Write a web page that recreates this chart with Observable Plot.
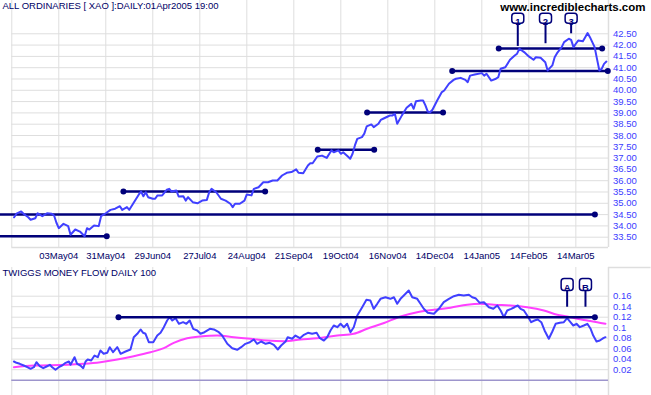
<!DOCTYPE html>
<html>
<head>
<meta charset="utf-8">
<script src="https://cdn.jsdelivr.net/npm/d3@7"></script>
<script src="https://cdn.jsdelivr.net/npm/@observablehq/plot@0.6"></script>
<style>
  html, body { margin: 0; padding: 0; background: #ffffff; }
  #chart { width: 651px; height: 395px; overflow: hidden; }
  #chart svg { display: block; }
</style>
</head>
<body>
<div id="chart"></div>
<script>
// ---------------- DATA ----------------
const chartTitle = "ALL ORDINARIES [ XAO ]:DAILY:01Apr2005 19:00";
const watermark = "www.incrediblecharts.com";
const mfTitle = "TWIGGS MONEY FLOW DAILY 100";

// trading-day index (0 = 03May04) and date tick labels
const gridDays = [-20, 0, 20, 40, 60, 80, 100, 120, 140, 160, 180, 200, 220];
const tickDays = [0, 20, 40, 60, 80, 100, 120, 140, 160, 180, 200, 220];
const dateLabels = ["03May04", "31May04", "29Jun04", "27Jul04", "24Aug04", "21Sep04",
  "19Oct04", "16Nov04", "14Dec04", "14Jan05", "14Feb05", "14Mar05"];

const priceTicks = [33.5, 34, 34.5, 35, 35.5, 36, 36.5, 37, 37.5, 38, 38.5, 39, 39.5, 40, 40.5, 41, 41.5, 42, 42.5];
const mfTicks = [0.02, 0.04, 0.06, 0.08, 0.1, 0.12, 0.14, 0.16];

// ALL ORDINARIES close
const priceDay = [-19,-18,-16,-15,-13,-12,-10,-9,-7,-5,-3,-2,-1,0,2,4,5,7,9,11,12,13,15,17,18,20,22,24,26,27,29,30,32,34,35,36,37,38,40,41,42,44,46,47,48,50,51,53,54,55,57,59,61,63,64,65,67,69,71,73,74,75,77,79,80,82,83,85,87,89,91,93,95,97,99,101,102,104,106,107,108,110,112,114,116,117,119,120,121,123,124,125,126,127,129,130,131,133,134,136,137,138,140,141,142,143,144,146,147,148,150,151,152,154,155,156,157,158,159,161,163,164,166,168,169,171,173,174,175,177,180,181,182,184,186,187,188,190,192,194,195,196,198,200,202,203,205,207,208,210,211,212,214,215,217,218,219,220,221,223,224,225,226,228,229,230,231,232,233];
const priceClose = [34.38,34.54,34.64,34.54,34.38,34.27,34.34,34.56,34.43,34.56,34.54,34.46,34.14,33.90,34.09,33.99,33.61,33.84,33.75,33.54,33.90,33.84,34.02,33.99,34.43,34.56,34.71,34.76,34.87,34.71,34.83,34.71,35.05,35.38,35.52,35.31,35.49,35.27,35.20,35.20,35.35,35.35,35.60,35.64,35.52,35.57,35.30,35.31,35.12,35.27,35.05,35.00,35.12,35.15,35.49,35.64,35.49,35.20,35.12,34.98,34.83,34.98,34.98,35.12,35.39,35.35,35.64,35.71,35.93,35.93,36.01,36.01,36.23,36.35,36.38,36.50,36.35,36.33,36.67,36.77,36.77,37.07,37.11,37.01,37.34,37.26,37.34,37.19,37.26,37.07,36.97,37.19,37.56,37.85,37.93,38.08,38.40,38.49,38.37,38.52,38.69,38.74,38.84,38.89,38.89,38.96,38.52,38.89,39.06,39.23,39.40,39.18,39.52,39.55,39.55,39.33,39.06,39.03,39.14,39.55,39.92,39.99,40.29,40.46,40.51,40.55,40.46,40.36,40.65,40.70,40.76,40.65,40.73,40.43,40.51,40.58,40.95,41.02,41.35,41.54,41.62,41.84,41.69,41.50,41.35,41.46,41.44,41.24,40.88,41.10,41.46,41.64,41.91,42.13,42.28,42.23,41.91,42.06,42.20,42.17,42.35,42.53,42.35,41.91,41.39,40.88,40.95,41.17,41.27];

// Twiggs Money Flow
const mfDay = [-19.1,-18,-16.6,-14.9,-13.4,-12,-10.6,-9.5,-8.1,-6.6,-5.2,-3.8,-2.8,-1.4,0,1.4,2.9,4.3,5,6.7,7.8,9.2,10.4,11.4,12.3,13.8,15.2,16.6,17.7,19.1,20.6,21.7,23.1,24.9,26.3,28.4,30.5,31.9,33.4,34.8,35.9,36.9,38.3,40.2,41.9,43.3,44.7,46.1,47.2,48.3,49.7,51.1,52.9,54.3,55.7,57.2,58.9,60.3,62,64.3,66,68.1,69.5,71.7,73.8,75.9,77.6,79.4,81.3,83,84.4,86.1,88,89.8,91.5,93.2,94.6,96.5,97.4,99.3,100.7,102.6,104.3,106,107.8,109.7,111.1,112.8,114.2,115.6,117,118.5,119.9,121.3,122.7,124.1,125.5,127,129.1,130.9,132.6,134,135.5,136.9,139,141.1,142.6,144,145.4,146.8,148.9,150.4,152.5,153.9,155.3,157,159.6,161.7,163.8,166,168.1,170.2,172.3,174.5,175.9,177.3,179.1,180.9,183,184.9,186.6,188,189.4,190.8,192.5,193.9,195.3,196.5,197.9,199.3,201,202.4,203.8,205.3,206.7,208.5,210,211.4,213.2,214.9,216.3,217.7,218.9,220.3,221.7,223.4,224.9,226.3,227.4,228.8,230.2,231.7,232.6];
const mfValue = [0.0356,0.0331,0.0312,0.028,0.0248,0.0217,0.0248,0.0343,0.0267,0.0229,0.0261,0.0293,0.0248,0.0198,0.0248,0.028,0.0331,0.0356,0.0293,0.0438,0.0312,0.028,0.0229,0.0356,0.0394,0.0375,0.047,0.0438,0.0566,0.0503,0.0522,0.0629,0.0533,0.0629,0.0503,0.0547,0.0585,0.0819,0.0884,0.0966,0.0903,0.0884,0.0724,0.0724,0.0851,0.0903,0.101,0.1137,0.12,0.1137,0.1181,0.1074,0.1105,0.1074,0.1137,0.0979,0.0947,0.0884,0.0914,0.0979,0.0966,0.0914,0.0851,0.0693,0.061,0.0579,0.0629,0.0693,0.0724,0.0775,0.0693,0.0737,0.0693,0.0712,0.0674,0.0585,0.0661,0.0737,0.0819,0.0789,0.0851,0.08,0.0865,0.0903,0.0884,0.0903,0.08,0.0756,0.0819,0.0947,0.1042,0.101,0.1074,0.101,0.1074,0.0914,0.101,0.1232,0.139,0.1531,0.1518,0.136,0.1455,0.155,0.158,0.155,0.158,0.1455,0.155,0.1613,0.1709,0.158,0.155,0.1455,0.136,0.1284,0.1265,0.136,0.1486,0.155,0.16,0.1627,0.1613,0.1627,0.158,0.1562,0.1474,0.1486,0.139,0.136,0.1423,0.1328,0.12,0.1328,0.136,0.139,0.1423,0.136,0.1328,0.1232,0.1105,0.1137,0.1156,0.1105,0.0947,0.0789,0.0928,0.1074,0.1093,0.1105,0.1181,0.1105,0.1042,0.1074,0.101,0.1042,0.1074,0.0979,0.0851,0.0737,0.0756,0.08,0.0819];

// Signal (moving average of money flow)
const sigDay = [-19.1,-10.6,3.6,10.6,17.7,24.9,31.9,39,44.7,48.9,54.6,60.3,67.4,74.5,81.6,88.7,95.7,102.9,110,118.5,125.5,131.2,138.4,145.4,152.5,159.6,166.7,173.8,179.5,185.1,192.2,199.3,206.4,212.1,216.3,220.6,224.9,229.1,232.6];
const sigValue = [0.0248,0.028,0.0293,0.0312,0.0343,0.0394,0.0457,0.0533,0.061,0.0712,0.08,0.0832,0.0851,0.0819,0.0789,0.0756,0.0743,0.0775,0.08,0.0851,0.0884,0.098,0.109,0.1213,0.1295,0.1341,0.138,0.1439,0.1455,0.1436,0.1423,0.139,0.1328,0.1246,0.1213,0.1169,0.1137,0.1105,0.1074];

// support / resistance lines (null start = from left edge)
const lineLevel = [33.54, 34.5, 35.52, 37.37, 39.02, 40.85, 41.85];
const lineStart = [null, null, 27.5, 110.2, 131.2, 167.4, 187.2];
const lineEnd = [20.4, 228.1, 87.8, 134.2, 163.5, 233.6, 231.2];

const mfLineLevel = [0.12];
const mfLineStart = [25.4];
const mfLineEnd = [228.1];

// callouts
const calloutLabels = ["1", "2", "3"];
const calloutDays = [195.3, 207.1, 218.0];
const calloutTargets = [41.94, 42.06, 42.5];
const mfCalloutLabels = ["A", "B"];
const mfCalloutDays = [216.3, 224.1];
const mfCalloutTargets = [0.139, 0.139];

// ---------------- STYLE ----------------
const FONT = "'Liberation Sans', Arial, Helvetica, sans-serif";
const GRID = "#dedede";
const NAVY = "#00007a";
const LABELNAVY = "#000066";
const PRICEBLUE = "#4040ff";
const AXISBLUE = "#3c3cff";
const MAGENTA = "#ff40ff";

const xDomain = [-24.8, 233.9];
const yDomain = [33.044, 43.973];
const mfDomain = [-0.02914, 0.21467];

const price = priceDay.map((d, i) => ({day: d, close: priceClose[i]}));
const mf = mfDay.map((d, i) => ({day: d, value: mfValue[i]}));
const sig = sigDay.map((d, i) => ({day: d, value: sigValue[i]}));
const lines = lineLevel.map((v, i) => ({level: v, start: lineStart[i] ?? xDomain[0], end: lineEnd[i]}));
const lineDots = lineLevel.flatMap((v, i) => lineStart[i] == null
  ? [{day: lineEnd[i], level: v}]
  : [{day: lineStart[i], level: v}, {day: lineEnd[i], level: v}]);
const mfLines = mfLineLevel.map((v, i) => ({level: v, start: mfLineStart[i], end: mfLineEnd[i]}));
const mfLineDots = mfLineLevel.flatMap((v, i) => [{day: mfLineStart[i], level: v}, {day: mfLineEnd[i], level: v}]);
const callouts = calloutLabels.map((l, i) => ({label: l, day: calloutDays[i], target: calloutTargets[i]}));
const mfCallouts = mfCalloutLabels.map((l, i) => ({label: l, day: mfCalloutDays[i], target: mfCalloutTargets[i]}));

function roundedBox(w, h, r) {
  return {
    draw(ctx) {
      const x0 = -w / 2, x1 = w / 2, y0 = -h / 2, y1 = h / 2;
      ctx.moveTo(x0 + r, y0);
      ctx.lineTo(x1 - r, y0);
      ctx.arcTo(x1, y0, x1, y0 + r, r);
      ctx.lineTo(x1, y1 - r);
      ctx.arcTo(x1, y1, x1 - r, y1, r);
      ctx.lineTo(x0 + r, y1);
      ctx.arcTo(x0, y1, x0, y1 - r, r);
      ctx.lineTo(x0, y0 + r);
      ctx.arcTo(x0, y0, x0 + r, y0, r);
      ctx.closePath();
    }
  };
}

// ---------------- TOP PANEL ----------------
const topPlot = Plot.plot({
  width: 651, height: 262,
  marginLeft: 0, marginRight: 43, marginTop: 0, marginBottom: 15,
  style: {fontFamily: FONT, fontSize: "9.5px", background: "white", overflow: "visible"},
  x: {domain: xDomain, axis: null},
  y: {domain: yDomain, axis: null},
  marks: [
    Plot.ruleX(gridDays, {x: d => d, stroke: GRID, strokeWidth: 1}),
    Plot.ruleY(priceTicks, {y: d => d, x1: gridDays[0], x2: xDomain[1], stroke: GRID, strokeWidth: 1}),
    Plot.ruleY([yDomain[0]], {y: d => d, x1: gridDays[0], x2: xDomain[1], stroke: GRID, strokeWidth: 1.5}),
    Plot.ruleX([xDomain[1]], {x: d => d, stroke: GRID, strokeWidth: 1.5}),
    Plot.ruleY(lines, {y: "level", x1: "start", x2: "end", stroke: NAVY, strokeWidth: 2.5}),
    Plot.dot(lineDots, {x: "day", y: "level", r: 3, fill: NAVY}),
    Plot.line(price, {x: "day", y: "close", stroke: PRICEBLUE, strokeWidth: 2}),
    Plot.ruleX(callouts, {x: "day", y1: () => yDomain[1], y2: "target", insetTop: 22.7, stroke: NAVY, strokeWidth: 2}),
    Plot.dot(callouts, {x: "day", frameAnchor: "top", dy: 17.7, symbol: roundedBox(12, 10, 3), r: 5, fill: "white", stroke: NAVY, strokeWidth: 1.5}),
    Plot.text(callouts, {x: "day", text: "label", frameAnchor: "top", dy: 17.7, fill: NAVY, fontSize: 9.5, fontWeight: "bold"}),
    Plot.text([chartTitle], {text: d => d, frameAnchor: "top-left", dx: 2, dy: 2, lineAnchor: "top", textAnchor: "start", fill: LABELNAVY, fontSize: 9.5}),
    Plot.text([watermark], {text: d => d, frameAnchor: "top-right", dx: 37, dy: 2, lineAnchor: "top", textAnchor: "end", fill: "black", fontSize: 11.5, fontWeight: "bold"}),
    Plot.axisX(tickDays, {anchor: "bottom", tickSize: 0, tickPadding: 5, tickFormat: d => dateLabels[tickDays.indexOf(d)], fill: LABELNAVY, fontSize: 9.5}),
    Plot.axisY(priceTicks, {anchor: "right", tickSize: 0, tickPadding: 4.5, tickFormat: d => d.toFixed(2), fill: AXISBLUE, fontSize: 9.5, textAnchor: "start"})
  ]
});

// ---------------- BOTTOM PANEL ----------------
const botPlot = Plot.plot({
  width: 651, height: 133,
  marginLeft: 0, marginRight: 43, marginTop: 5, marginBottom: 0,
  style: {fontFamily: FONT, fontSize: "9.5px", background: "white", overflow: "visible"},
  x: {domain: xDomain, axis: null},
  y: {domain: mfDomain, axis: null},
  marks: [
    Plot.ruleX(gridDays, {x: d => d, stroke: GRID, strokeWidth: 1}),
    Plot.ruleY(mfTicks, {y: d => d, x1: gridDays[0], x2: xDomain[1], stroke: GRID, strokeWidth: 1}),
    Plot.ruleX([xDomain[1]], {x: d => d, stroke: GRID, strokeWidth: 1.5}),
    Plot.ruleY([mfDomain[1]], {y: d => d, x1: xDomain[1], x2: 252, stroke: GRID, strokeWidth: 1.5}),
    Plot.ruleY([0], {y: d => d, x1: gridDays[0], x2: xDomain[1], stroke: "#9d95cc", strokeWidth: 1.5}),
    Plot.line(sig, {x: "day", y: "value", stroke: MAGENTA, strokeWidth: 2, curve: "monotone-x"}),
    Plot.line(mf, {x: "day", y: "value", stroke: PRICEBLUE, strokeWidth: 2}),
    Plot.ruleY(mfLines, {y: "level", x1: "start", x2: "end", stroke: NAVY, strokeWidth: 2.5}),
    Plot.dot(mfLineDots, {x: "day", y: "level", r: 3, fill: NAVY}),
    Plot.ruleX(mfCallouts, {x: "day", y1: () => mfDomain[1], y2: "target", insetTop: 23, stroke: NAVY, strokeWidth: 2}),
    Plot.dot(mfCallouts, {x: "day", frameAnchor: "top", dy: 17, symbol: roundedBox(12, 12, 3), r: 5, fill: "white", stroke: NAVY, strokeWidth: 1.5}),
    Plot.text(mfCallouts, {x: "day", text: "label", frameAnchor: "top", dy: 17, fill: NAVY, fontSize: 9.5, fontWeight: "bold"}),
    Plot.text([mfTitle], {text: d => d, frameAnchor: "top-left", dx: 2, dy: 2, lineAnchor: "top", textAnchor: "start", fill: LABELNAVY, fontSize: 9.5}),
    Plot.axisY(mfTicks, {anchor: "right", tickSize: 0, tickPadding: 4.5, tickFormat: d => String(+d.toFixed(2)), fill: AXISBLUE, fontSize: 9.5, textAnchor: "start"})
  ]
});

const chart = document.getElementById("chart");
chart.appendChild(topPlot);
chart.appendChild(botPlot);
</script>
</body>
</html>
